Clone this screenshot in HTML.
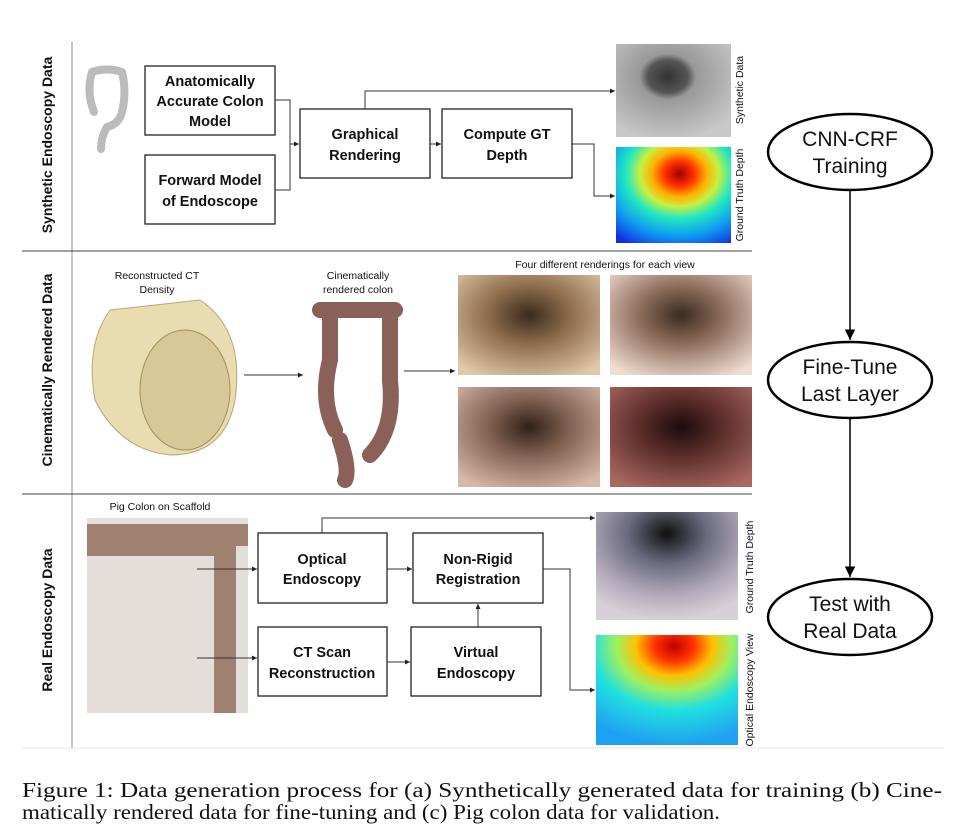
<!DOCTYPE html>
<html><head><meta charset="utf-8"><style>
html,body{margin:0;padding:0;background:#fff;width:968px;height:834px;overflow:hidden}
svg{display:block}
.bx{fill:#fff;stroke:#222;stroke-width:1.3}
.bt{font-family:"Liberation Sans",sans-serif;font-weight:bold;font-size:14.5px;fill:#111;text-anchor:middle}
.sm{font-family:"Liberation Sans",sans-serif;font-size:10.5px;fill:#111;text-anchor:middle}
.ln{stroke:#333;stroke-width:1;fill:none}
.side{font-family:"Liberation Sans",sans-serif;font-weight:bold;font-size:14px;fill:#111;text-anchor:middle}
.el{fill:#fff;stroke:#000;stroke-width:2.5}
.et{font-family:"Liberation Sans",sans-serif;font-size:21px;fill:#111;text-anchor:middle}
.cap{font-family:"Liberation Serif",serif;font-size:21px;fill:#111}
</style></head><body>
<svg width="968" height="834" viewBox="0 0 968 834">
<defs>
<marker id="ar" markerWidth="6" markerHeight="6" refX="5" refY="3" orient="auto"><path d="M0,0.5 L5,3 L0,5.5z" fill="#222"/></marker>
<marker id="ar2" markerWidth="8" markerHeight="8" refX="7" refY="4" orient="auto"><path d="M0,0.5 L7,4 L0,7.5z" fill="#000"/></marker>
<radialGradient id="gs" cx="0.45" cy="0.35" r="0.7"><stop offset="0" stop-color="#333"/><stop offset="0.25" stop-color="#555"/><stop offset="0.35" stop-color="#999"/><stop offset="1" stop-color="#c8c8c8"/></radialGradient>
<radialGradient id="gd" cx="0.55" cy="0.28" r="0.85"><stop offset="0" stop-color="#a00000"/><stop offset="0.15" stop-color="#ff3000"/><stop offset="0.28" stop-color="#ffb000"/><stop offset="0.4" stop-color="#c8f040"/><stop offset="0.55" stop-color="#20e8c0"/><stop offset="0.75" stop-color="#10a0f0"/><stop offset="1" stop-color="#1030e0"/></radialGradient>
<radialGradient id="gd2" cx="0.55" cy="0.1" r="0.9"><stop offset="0" stop-color="#c00000"/><stop offset="0.15" stop-color="#ff3000"/><stop offset="0.3" stop-color="#ffc000"/><stop offset="0.45" stop-color="#a0f060"/><stop offset="0.65" stop-color="#20e0e0"/><stop offset="1" stop-color="#20a0f0"/></radialGradient>
<radialGradient id="gr1" cx="0.5" cy="0.4" r="0.7"><stop offset="0" stop-color="#3a2a1c"/><stop offset="0.4" stop-color="#8a6a4a"/><stop offset="1" stop-color="#e0c8a8"/></radialGradient>
<radialGradient id="gr2" cx="0.5" cy="0.4" r="0.7"><stop offset="0" stop-color="#3a2a20"/><stop offset="0.4" stop-color="#8a6a58"/><stop offset="1" stop-color="#f0dcd0"/></radialGradient>
<radialGradient id="gr3" cx="0.5" cy="0.4" r="0.7"><stop offset="0" stop-color="#302018"/><stop offset="0.4" stop-color="#806050"/><stop offset="1" stop-color="#d8b8a8"/></radialGradient>
<radialGradient id="gr4" cx="0.5" cy="0.4" r="0.7"><stop offset="0" stop-color="#1a0c0c"/><stop offset="0.4" stop-color="#5a2c28"/><stop offset="1" stop-color="#a86860"/></radialGradient>
<radialGradient id="gop" cx="0.5" cy="0.2" r="0.8"><stop offset="0" stop-color="#101010"/><stop offset="0.35" stop-color="#6a6a80"/><stop offset="0.7" stop-color="#b0a8b8"/><stop offset="1" stop-color="#d8d0d8"/></radialGradient>
</defs>

<line x1="72" y1="42" x2="72" y2="748" stroke="#888" stroke-width="1"/>
<line x1="22" y1="251" x2="752" y2="251" stroke="#444"/>
<line x1="22" y1="494" x2="752" y2="494" stroke="#444"/>
<line x1="22" y1="748" x2="944" y2="748" stroke="#e6e6e6"/>

<text class="side" transform="translate(52,145) rotate(-90)">Synthetic Endoscopy Data</text>
<text class="side" transform="translate(52,370) rotate(-90)">Cinematically Rendered Data</text>
<text class="side" transform="translate(52,620) rotate(-90)">Real Endoscopy Data</text>

<path d="M92,72 q15,-5 30,0 M92,72 q-6,20 2,40 M122,72 q5,20 0,40 q-3,12 -15,15 q-6,10 -6,22" stroke="#bbb" stroke-width="8" fill="none" stroke-linecap="round"/>
<g><rect class="bx" x="145" y="66" width="130" height="69"/>
<text class="bt" x="210" y="86">Anatomically</text><text class="bt" x="210" y="106">Accurate Colon</text><text class="bt" x="210" y="126">Model</text></g>
<g><rect class="bx" x="145" y="155" width="130" height="69"/>
<text class="bt" x="210" y="185">Forward Model</text><text class="bt" x="210" y="206">of Endoscope</text></g>
<g><rect class="bx" x="300" y="109" width="130" height="69"/>
<text class="bt" x="365" y="139">Graphical</text><text class="bt" x="365" y="160">Rendering</text></g>
<g><rect class="bx" x="442" y="109" width="130" height="69"/>
<text class="bt" x="507" y="139">Compute GT</text><text class="bt" x="507" y="160">Depth</text></g>
<path class="ln" d="M275,100 H290 V190 H275 M290,144 H299" marker-end="url(#ar)"/>
<path class="ln" d="M430,144 H441" marker-end="url(#ar)"/>
<path class="ln" d="M365,109 V91 H615" marker-end="url(#ar)"/>
<path class="ln" d="M572,144 H594 V196 H615" marker-end="url(#ar)"/>
<rect x="616" y="44" width="115" height="93" fill="url(#gs)"/>
<rect x="616" y="147" width="115" height="96" fill="url(#gd)"/>
<text class="sm" transform="translate(743,90) rotate(-90)">Synthetic Data</text>
<text class="sm" transform="translate(743,195) rotate(-90)">Ground Truth Depth</text>

<text class="sm" x="157" y="279">Reconstructed CT</text>
<text class="sm" x="157" y="293">Density</text>
<path d="M110,310 L200,300 Q245,330 235,400 Q225,455 170,455 Q120,450 95,400 Q85,345 110,310z" fill="#e8dcb0" stroke="#b8a878"/>
<ellipse cx="185" cy="390" rx="45" ry="60" fill="#d8c898" stroke="#a09060"/>
<path class="ln" d="M244,375 H303" marker-end="url(#ar)"/>
<text class="sm" x="358" y="279">Cinematically</text>
<text class="sm" x="358" y="293">rendered colon</text>
<path d="M320,310 H395 M330,315 V360 Q320,400 335,430 M390,315 V380 Q395,430 370,455 M340,440 Q350,470 345,480" stroke="#8a6058" stroke-width="16" fill="none" stroke-linecap="round"/>
<path class="ln" d="M404,371 H455" marker-end="url(#ar)"/>
<text class="sm" x="605" y="268">Four different renderings for each view</text>
<rect x="458" y="275" width="142" height="100" fill="url(#gr1)"/>
<rect x="610" y="275" width="142" height="100" fill="url(#gr2)"/>
<rect x="458" y="387" width="142" height="100" fill="url(#gr3)"/>
<rect x="610" y="387" width="142" height="100" fill="url(#gr4)"/>

<text class="sm" x="160" y="510">Pig Colon on Scaffold</text>
<rect x="87" y="518" width="161" height="195" fill="#e4dedb"/>
<path d="M87,545 H225 V713 M87,535 H248" stroke="#a08070" stroke-width="22" fill="none"/>
<g><rect class="bx" x="258" y="533" width="129" height="70"/>
<text class="bt" x="322" y="564">Optical</text><text class="bt" x="322" y="584">Endoscopy</text></g>
<g><rect class="bx" x="413" y="533" width="130" height="70"/>
<text class="bt" x="478" y="564">Non-Rigid</text><text class="bt" x="478" y="584">Registration</text></g>
<g><rect class="bx" x="258" y="627" width="129" height="69"/>
<text class="bt" x="322" y="657">CT Scan</text><text class="bt" x="322" y="678">Reconstruction</text></g>
<g><rect class="bx" x="411" y="627" width="130" height="69"/>
<text class="bt" x="476" y="657">Virtual</text><text class="bt" x="476" y="678">Endoscopy</text></g>
<path class="ln" d="M197,569 H257" marker-end="url(#ar)"/>
<path class="ln" d="M197,658 H257" marker-end="url(#ar)"/>
<path class="ln" d="M387,569 H412" marker-end="url(#ar)"/>
<path class="ln" d="M387,662 H410" marker-end="url(#ar)"/>
<path class="ln" d="M478,627 V604" marker-end="url(#ar)"/>
<path class="ln" d="M322,533 V518 H595" marker-end="url(#ar)"/>
<path class="ln" d="M543,569 H570 V690 H595" marker-end="url(#ar)"/>
<rect x="596" y="512" width="142" height="108" fill="url(#gop)"/>
<rect x="596" y="635" width="142" height="110" fill="url(#gd2)"/>
<text class="sm" transform="translate(753,567) rotate(-90)">Ground Truth Depth</text>
<text class="sm" transform="translate(753,690) rotate(-90)">Optical Endoscopy View</text>

<line x1="850" y1="190" x2="850" y2="340" stroke="#000" stroke-width="1.5" marker-end="url(#ar2)"/>
<line x1="850" y1="418" x2="850" y2="577" stroke="#000" stroke-width="1.5" marker-end="url(#ar2)"/>
<g><ellipse class="el" cx="850" cy="152" rx="82" ry="38"/>
<text class="et" x="850" y="146">CNN-CRF</text><text class="et" x="850" y="173">Training</text></g>
<g><ellipse class="el" cx="850" cy="380" rx="82" ry="38"/>
<text class="et" x="850" y="374">Fine-Tune</text><text class="et" x="850" y="401">Last Layer</text></g>
<g><ellipse class="el" cx="850" cy="617" rx="82" ry="38"/>
<text class="et" x="850" y="611">Test with</text><text class="et" x="850" y="638">Real Data</text></g>

<text class="cap" x="22" y="797" textLength="920" lengthAdjust="spacingAndGlyphs">Figure 1: Data generation process for (a) Synthetically generated data for training (b) Cine-</text>
<text class="cap" x="22" y="819" textLength="698" lengthAdjust="spacingAndGlyphs">matically rendered data for fine-tuning and (c) Pig colon data for validation.</text>
</svg>
</body></html>
